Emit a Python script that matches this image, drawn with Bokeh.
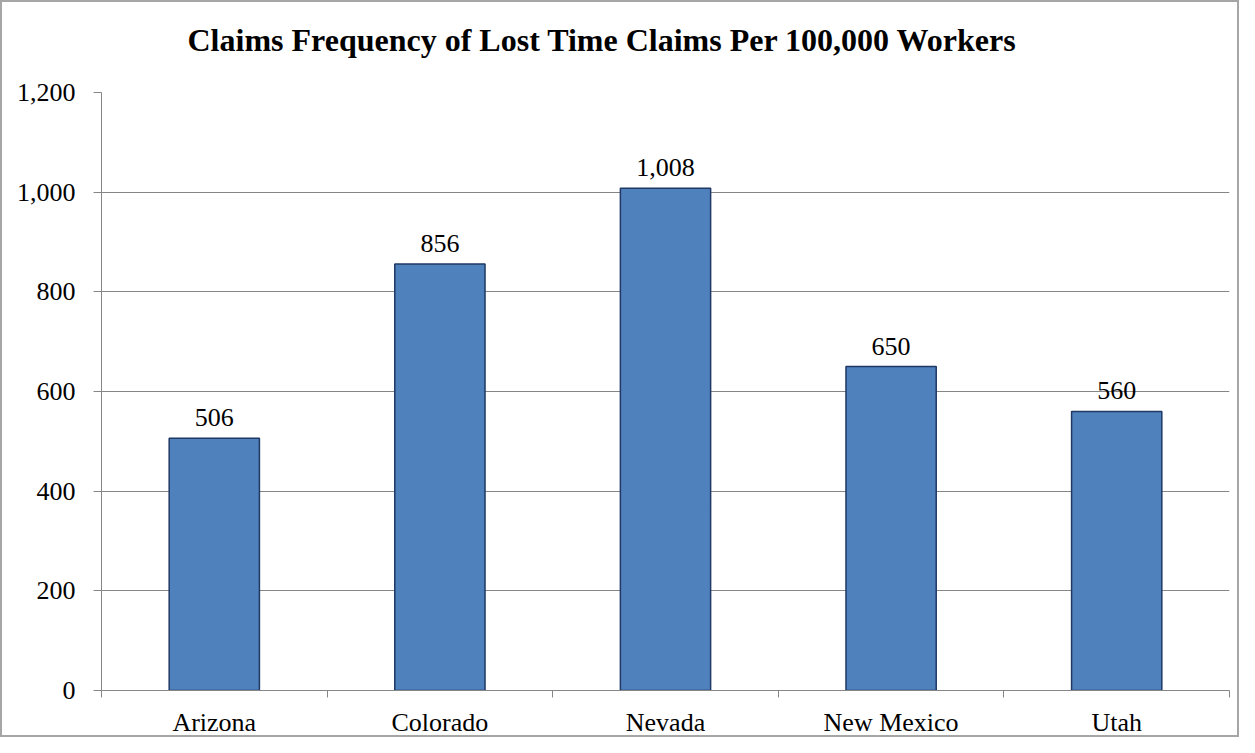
from bokeh.plotting import figure
from bokeh.models import ColumnDataSource, LabelSet, FixedTicker, NumeralTickFormatter, Range1d, Title
from bokeh.embed import file_html
from bokeh.resources import INLINE

states = ["Arizona", "Colorado", "Nevada", "New Mexico", "Utah"]
claims = [506, 856, 1008, 650, 560]
y_ticks = [0, 200, 400, 600, 800, 1000, 1200]
title_text = "Claims Frequency of Lost Time Claims Per 100,000 Workers"

xpos = [i + 0.5 for i in range(len(states))]
labels = [f"{v:,}" for v in claims]
src = ColumnDataSource(dict(x=xpos, y=claims, label=labels))

FONT = "Liberation Serif"
GRID = "#868686"

p = figure(width=1239, height=737, output_backend="svg", toolbar_location=None,
           x_range=Range1d(0, len(states)), y_range=Range1d(0, y_ticks[-1]),
           min_border_left=99, min_border_right=12, min_border_top=90, min_border_bottom=43)
p.outline_line_color = None
p.styles = {"border": "2px solid #a6a6a6", "box-sizing": "border-box"}

# invisible spacer between the plot area and the title
p.add_layout(Title(text=" ", text_font_size="1px", standoff=27), "above")

p.title.text = title_text
p.title.text_font = FONT
p.title.text_font_size = "32px"
p.title.text_font_style = "bold"
p.title.text_color = "#000000"
p.title.align = "left"
p.title.offset = 86
p.title.standoff = 10

p.vbar(x="x", top="y", width=0.4, source=src, fill_color="#4F81BD",
       line_color="#1F3864", line_width=1.5)

p.add_layout(LabelSet(x="x", y="y", text="label", source=src, y_offset=12,
                      text_align="center", text_baseline="bottom",
                      text_font=FONT, text_font_size="26px", text_color="#000000"))

# x axis: labels at centres, ticks at category boundaries
p.xaxis.ticker = FixedTicker(ticks=xpos, minor_ticks=list(range(len(states) + 1)))
p.xaxis.major_label_overrides = {x: s for x, s in zip(xpos, states)}
p.xaxis.major_tick_line_color = None
p.xaxis.minor_tick_in = 0
p.xaxis.minor_tick_out = 7
p.xaxis.minor_tick_line_color = GRID
p.xaxis.axis_line_color = GRID
p.xaxis.major_label_text_font = FONT
p.xaxis.major_label_text_font_size = "26px"
p.xaxis.major_label_text_color = "#000000"
p.xaxis.major_label_standoff = 10

p.yaxis.ticker = FixedTicker(ticks=y_ticks)
p.yaxis.formatter = NumeralTickFormatter(format="0,0")
p.yaxis.major_tick_in = 0
p.yaxis.major_tick_out = 8
p.yaxis.major_tick_line_color = GRID
p.yaxis.minor_tick_line_color = None
p.yaxis.axis_line_color = GRID
p.yaxis.major_label_text_font = FONT
p.yaxis.major_label_text_font_size = "26px"
p.yaxis.major_label_text_color = "#000000"
p.yaxis.major_label_standoff = 18

p.xgrid.grid_line_color = None
p.ygrid.grid_line_color = GRID
p.ygrid.grid_line_width = 1

open("out.html", "w").write(file_html(p, INLINE))
